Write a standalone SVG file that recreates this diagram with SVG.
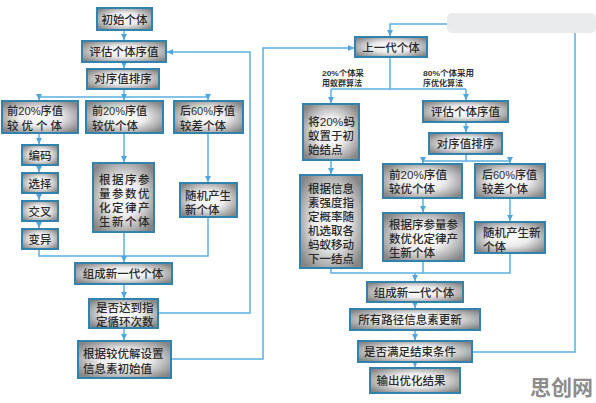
<svg xmlns="http://www.w3.org/2000/svg" width="596" height="403" viewBox="0 0 596 403">
<defs>
<radialGradient id="g" cx="50%" cy="50%" r="62%">
<stop offset="0" stop-color="#ffffff"/>
<stop offset="0.45" stop-color="#ebebeb"/>
<stop offset="1" stop-color="#858585"/>
</radialGradient>
<marker id="a" markerWidth="6" markerHeight="6" refX="6" refY="3" orient="auto" markerUnits="userSpaceOnUse">
<path d="M0,0 L6,3 L0,6 z" fill="#4fa6dc"/>
</marker>
<style>
.b{fill:url(#g);stroke:#3183ad;stroke-width:2}
.t{font-family:"Liberation Sans","Noto Sans CJK SC",sans-serif;font-size:11.5px;font-weight:500;fill:#2a2a2a}
.c{text-anchor:middle}
.s{font-size:8px;font-weight:700;fill:#333}
.l{fill:none;stroke:#5ab0e0;stroke-width:1.5}
.m{marker-end:url(#a)}
</style>
</defs>
<rect width="596" height="403" fill="#ffffff"/>
<g id="connectors">
<path class="l m" d="M124,30 V40"/>
<path class="l m" d="M124,62 V68"/>
<path class="l" d="M124,89 V97 M39,97 H208"/>
<path class="l m" d="M39,97 V100"/>
<path class="l m" d="M124,97 V100"/>
<path class="l m" d="M208,97 V100"/>
<path class="l m" d="M39,133 V144"/>
<path class="l m" d="M39,165 V172"/>
<path class="l m" d="M39,193 V200"/>
<path class="l m" d="M39,221 V228"/>
<path class="l m" d="M124,133 V162"/>
<path class="l m" d="M208,133 V182"/>
<path class="l" d="M39,249 V256 H208 V217"/>
<path class="l m" d="M124,232 V262"/>
<path class="l m" d="M124,284 V298"/>
<path class="l m" d="M124,328 V340"/>
<path class="l m" d="M158,313 H250 V52 H167"/>
<path class="l m" d="M171,359 H263 V48 H354"/>
<path class="l m" d="M472,352 H575 V24 H390 V36"/>
<path class="l" d="M390,57 V89 M331,89 H466"/>
<path class="l m" d="M331,89 V103"/>
<path class="l m" d="M466,89 V100"/>
<path class="l m" d="M331,160 V174"/>
<path class="l m" d="M466,122 V132"/>
<path class="l" d="M466,154 V161 M423,161 H510"/>
<path class="l m" d="M423,161 V163"/>
<path class="l m" d="M510,161 V163"/>
<path class="l m" d="M423,198 V212"/>
<path class="l m" d="M510,198 V221"/>
<path class="l" d="M331,268 V273 H510 V253 M423,261 V273"/>
<path class="l m" d="M415,273 V281"/>
<path class="l m" d="M415,302 V308"/>
<path class="l m" d="M415,330 V340"/>
<path class="l m" d="M415,362 V367"/>
</g>
<rect x="447" y="13" width="149" height="20" rx="5" fill="#eaebec"/>
<g id="L1"><rect class="b" x="97" y="8" width="55" height="22"/><text class="t c" x="124.5" y="23.5">初始个体</text></g>
<g id="L2"><rect class="b" x="82" y="41" width="84" height="21"/><text class="t c" x="124" y="56">评估个体序值</text></g>
<g id="L3"><rect class="b" x="87" y="69" width="72" height="20"/><text class="t c" x="123" y="83">对序值排序</text></g>
<g id="L4"><rect class="b" x="2" y="101" width="76" height="32"/><text class="t"><tspan x="7" y="115" textLength="56" lengthAdjust="spacingAndGlyphs">前20%序值</tspan><tspan x="7" y="130" style="letter-spacing:3px">较优个体</tspan></text></g>
<g id="L5"><rect class="b" x="86" y="101" width="77" height="32"/><text class="t"><tspan x="92" y="115" textLength="55" lengthAdjust="spacingAndGlyphs">前20%序值</tspan><tspan x="92" y="130">较优个体</tspan></text></g>
<g id="L6"><rect class="b" x="174" y="101" width="69" height="32"/><text class="t"><tspan x="180" y="115" textLength="55" lengthAdjust="spacingAndGlyphs">后60%序值</tspan><tspan x="180" y="130">较差个体</tspan></text></g>
<g id="L7"><rect class="b" x="22" y="145" width="36" height="20"/><text class="t c" x="40" y="159.5">编码</text></g>
<g id="L8"><rect class="b" x="22" y="173" width="36" height="20"/><text class="t c" x="40" y="187.5">选择</text></g>
<g id="L9"><rect class="b" x="22" y="201" width="36" height="20"/><text class="t c" x="40" y="215.5">交叉</text></g>
<g id="L10"><rect class="b" x="22" y="229" width="36" height="20"/><text class="t c" x="40" y="243.5">变异</text></g>
<g id="L11"><rect class="b" x="93" y="163" width="61" height="69"/><text class="t" style="letter-spacing:1.5px"><tspan x="99" y="184">根据序参</tspan><tspan x="99" y="198">量参数优</tspan><tspan x="99" y="212">化定律产</tspan><tspan x="99" y="226">生新个体</tspan></text></g>
<g id="L12"><rect class="b" x="180" y="183" width="57" height="34"/><text class="t"><tspan x="185" y="200">随机产生</tspan><tspan x="185" y="214">新个体</tspan></text></g>
<g id="L13"><rect class="b" x="75" y="263" width="97" height="21"/><text class="t c" x="123" y="278">组成新一代个体</text></g>
<g id="L14"><rect class="b" x="89" y="299" width="69" height="29"/><text class="t"><tspan x="96" y="312">是否达到指</tspan><tspan x="96" y="326">定循环次数</tspan></text></g>
<g id="L15"><rect class="b" x="78" y="341" width="93" height="37"/><text class="t"><tspan x="83" y="358">根据较优解设置</tspan><tspan x="83" y="373">信息素初始值</tspan></text></g>
<g id="R1"><rect class="b" x="355" y="37" width="72" height="20"/><text class="t c" x="391" y="51.5">上一代个体</text></g>
<text class="t s"><tspan x="322" y="76" textLength="42" lengthAdjust="spacingAndGlyphs">20%个体采</tspan><tspan x="322" y="86">用蚁群算法</tspan></text>
<text class="t s"><tspan x="423" y="76" textLength="51" lengthAdjust="spacingAndGlyphs">80%个体采用</tspan><tspan x="423" y="86">序优化算法</tspan></text>
<g id="R2"><rect class="b" x="303" y="104" width="56" height="56"/><text class="t"><tspan x="308" y="126" textLength="47" lengthAdjust="spacingAndGlyphs">将20%蚂</tspan><tspan x="308" y="140">蚁置于初</tspan><tspan x="308" y="154">始结点</tspan></text></g>
<g id="R3"><rect class="b" x="423" y="101" width="85" height="21"/><text class="t c" x="465.5" y="116">评估个体序值</text></g>
<g id="R4"><rect class="b" x="429" y="133" width="73" height="21"/><text class="t c" x="465.5" y="148">对序值排序</text></g>
<g id="R5"><rect class="b" x="383" y="164" width="79" height="34"/><text class="t"><tspan x="389" y="179" textLength="58" lengthAdjust="spacingAndGlyphs">前20%序值</tspan><tspan x="389" y="193">较优个体</tspan></text></g>
<g id="R6"><rect class="b" x="475" y="164" width="70" height="34"/><text class="t"><tspan x="482" y="179" textLength="55" lengthAdjust="spacingAndGlyphs">后60%序值</tspan><tspan x="482" y="193">较差个体</tspan></text></g>
<g id="R7"><rect class="b" x="383" y="213" width="81" height="48"/><text class="t"><tspan x="389" y="229">根据序参量参</tspan><tspan x="389" y="243">数优化定律产</tspan><tspan x="389" y="257">生新个体</tspan></text></g>
<g id="R8"><rect class="b" x="475" y="222" width="70" height="31"/><text class="t"><tspan x="483" y="237">随机产生新</tspan><tspan x="483" y="251">个体</tspan></text></g>
<g id="R9"><rect class="b" x="300" y="175" width="62" height="93"/><text class="t"><tspan x="308" y="193">根据信息</tspan><tspan x="308" y="207">素强度指</tspan><tspan x="308" y="221">定概率随</tspan><tspan x="308" y="235">机选取各</tspan><tspan x="308" y="249">蚂蚁移动</tspan><tspan x="308" y="263">下一结点</tspan></text></g>
<g id="R10"><rect class="b" x="367" y="282" width="96" height="20"/><text class="t c" x="414" y="297">组成新一代个体</text></g>
<g id="R11"><rect class="b" x="350" y="309" width="130" height="21"/><text class="t c" x="410" y="324">所有路径信息素更新</text></g>
<g id="R12"><rect class="b" x="358" y="341" width="114" height="21"/><text class="t c" x="410" y="356">是否满足结束条件</text></g>
<g id="R13"><rect class="b" x="370" y="368" width="90" height="25"/><text class="t c" x="411" y="385">输出优化结果</text></g>
<text x="530" y="395" style="font-family:'Noto Sans CJK SC',sans-serif;font-size:21px;font-weight:700;fill:#8c8c8c">思创网</text>
</svg>
